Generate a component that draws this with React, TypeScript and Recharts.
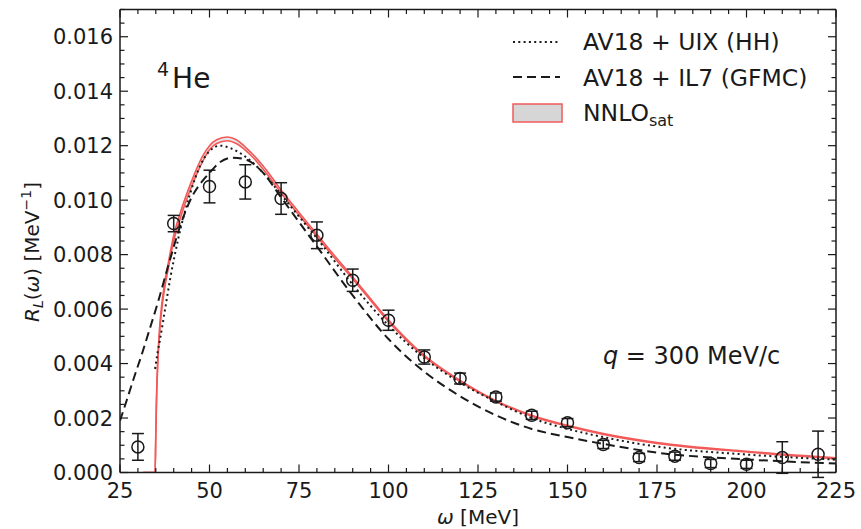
import React from 'react';
import {
  ComposedChart,
  Line,
  Area,
  Scatter,
  ErrorBar,
  XAxis,
  YAxis,
} from 'recharts';

// NNLOsat band (lower / upper edge)
const nnloW = [31.5, 34.8, 35.0, 35.2, 35.5, 36.0, 36.6, 37.4, 38.5, 40, 42, 45, 48, 50, 52, 55, 57.5, 60, 62.5, 65, 67.5, 70, 75, 80, 85, 90, 100, 110, 120, 130, 140, 150, 160, 175, 200, 225];
const nnloHi = [0, 0, 0.0015, 0.0028, 0.004, 0.0052, 0.0061, 0.0069, 0.0077, 0.0087, 0.0096, 0.0107, 0.0116, 0.012, 0.01222, 0.01232, 0.01222, 0.01195, 0.01163, 0.01125, 0.01082, 0.01037, 0.00955, 0.00875, 0.00795, 0.00718, 0.0056, 0.0043, 0.00338, 0.00264, 0.0021, 0.00173, 0.00143, 0.0011, 0.00078, 0.00054];
const nnloLo = [0, 0, 0.0013, 0.0026, 0.0038, 0.005, 0.0059, 0.0067, 0.0075, 0.0085, 0.0094, 0.0105, 0.0114, 0.01185, 0.01208, 0.01218, 0.01208, 0.01184, 0.01152, 0.01113, 0.0107, 0.01026, 0.00945, 0.00866, 0.00787, 0.00711, 0.00554, 0.00425, 0.00334, 0.00261, 0.00207, 0.0017, 0.0014, 0.00107, 0.00075, 0.00051];

// AV18 + UIX (HH)
const uixW = [34.8, 35.5, 36.2, 37.6, 39, 41.3, 44.5, 47.5, 50, 53, 56, 60, 65, 70, 75, 80, 90, 100, 110, 120, 130, 140, 150, 160, 175, 200, 225];
const uixR = [0.0038, 0.0044, 0.0049, 0.006, 0.0071, 0.0086, 0.0102, 0.0113, 0.0118, 0.012, 0.0119, 0.0116, 0.011, 0.0102, 0.0094, 0.0086, 0.0069, 0.0054, 0.0042, 0.0033, 0.0026, 0.002, 0.0016, 0.0013, 0.00095, 0.00066, 0.00047];

// AV18 + IL7 (GFMC)
const il7W = [25, 27, 29.2, 31, 32.9, 35.7, 38.5, 42.2, 45, 48, 50, 53, 56.5, 60, 65, 70, 75, 80, 90, 100, 110, 120, 130, 140, 150, 160, 175, 200, 225];
const il7R = [0.0019, 0.0027, 0.0036, 0.0043, 0.0051, 0.0063, 0.0076, 0.0092, 0.0101, 0.0107, 0.011, 0.0114, 0.01156, 0.0115, 0.011, 0.0101, 0.0092, 0.0083, 0.0065, 0.0049, 0.0037, 0.0028, 0.0021, 0.0016, 0.0013, 0.00105, 0.00073, 0.00048, 0.00033];

// experimental points
const expW = [30, 40, 50, 60, 70, 80, 90, 100, 110, 120, 130, 140, 150, 160, 170, 180, 190, 200, 210, 220];
const expR = [0.00094, 0.00914, 0.0105, 0.01067, 0.01006, 0.00871, 0.00706, 0.00559, 0.00424, 0.00345, 0.00277, 0.0021, 0.00183, 0.00103, 0.00055, 0.0006, 0.00033, 0.0003, 0.00055, 0.00067];
const expErr = [0.00049, 0.0003, 0.0006, 0.00063, 0.00058, 0.00049, 0.00041, 0.00037, 0.00026, 0.0002, 0.00015, 0.00015, 0.00015, 0.00015, 0.00015, 0.00015, 0.00015, 0.00015, 0.00058, 0.00085];

// ticks
const xMajor = [25, 50, 75, 100, 125, 150, 175, 200, 225];
const xTicks = Array.from({ length: 41 }, (_, i) => 25 + i * 5);
const yMajor = [0, 0.002, 0.004, 0.006, 0.008, 0.01, 0.012, 0.014, 0.016];
const yTicks = Array.from({ length: 35 }, (_, i) => Math.round(i * 5) / 10000);

const FONT = '"DejaVu Sans", sans-serif';
const INK = '#1a1a1a';
const RED = '#f25a5a';

const bandData = nnloW.map((w, i) => ({ w, band: [nnloLo[i], nnloHi[i]] }));
const uixData = uixW.map((w, i) => ({ w, r: uixR[i] }));
const il7Data = il7W.map((w, i) => ({ w, r: il7R[i] }));
const expData = expW.map((w, i) => ({ w, r: expR[i], err: expErr[i] }));

const isMajorY = (v: number) => yMajor.some((m) => Math.abs(m - v) < 1e-9);

function BottomTick({ x, y, payload }: any) {
  const major = xMajor.includes(payload.value);
  return (
    <g>
      <line x1={x} x2={x} y1={y} y2={y - (major ? 8 : 4.5)} stroke={INK} strokeWidth={1.2} />
      {major && (
        <text x={x} y={y + 25} textAnchor="middle" fontSize={21} fill={INK} fontFamily={FONT}>
          {payload.value}
        </text>
      )}
    </g>
  );
}

function TopTick({ x, y, payload }: any) {
  const major = xMajor.includes(payload.value);
  return <line x1={x} x2={x} y1={y} y2={y + (major ? 8 : 4.5)} stroke={INK} strokeWidth={1.2} />;
}

function LeftTick({ x, y, payload }: any) {
  const major = isMajorY(payload.value);
  return (
    <g>
      <line x1={x} x2={x + (major ? 8 : 4.5)} y1={y} y2={y} stroke={INK} strokeWidth={1.2} />
      {major && (
        <text x={x - 7} y={y + 7.5} textAnchor="end" fontSize={21} fill={INK} fontFamily={FONT}>
          {payload.value.toFixed(3)}
        </text>
      )}
    </g>
  );
}

function RightTick({ x, y, payload }: any) {
  const major = isMajorY(payload.value);
  return <line x1={x} x2={x - (major ? 8 : 4.5)} y1={y} y2={y} stroke={INK} strokeWidth={1.2} />;
}

function OpenCircle({ cx, cy }: any) {
  return <circle cx={cx} cy={cy} r={6} fill="none" stroke={INK} strokeWidth={1.5} />;
}

function Overlay() {
  return (
    <svg
      width={861}
      height={529}
      style={{ position: 'absolute', left: 0, top: 0, pointerEvents: 'none' }}
      fontFamily={FONT}
      fill={INK}
    >
      {/* legend */}
      <line x1={513} x2={560} y1={42} y2={42} stroke={INK} strokeWidth={2} strokeDasharray="2 3.3" />
      <text x={583} y={50} fontSize={23.5}>AV18 + UIX (HH)</text>
      <line x1={513} x2={560} y1={77} y2={77} stroke={INK} strokeWidth={2} strokeDasharray="9 5" />
      <text x={583} y={86} fontSize={23.5}>AV18 + IL7 (GFMC)</text>
      <rect x={513} y={104} width={49} height={18} fill="#d6d6d6" stroke={RED} strokeWidth={1.5} />
      <text x={583} y={121} fontSize={23.5}>
        NNLO<tspan fontSize={16} dy={5}>sat</tspan>
      </text>

      {/* annotations */}
      <text x={157} y={88} fontSize={28}>
        <tspan fontSize={19} dy={-12}>4</tspan>
        <tspan dy={12} dx={3}>He</tspan>
      </text>
      <text x={603} y={364} fontSize={24}>
        <tspan fontStyle="italic">q</tspan> = 300 MeV/c
      </text>

      {/* axis labels */}
      <text x={478} y={524} fontSize={20} textAnchor="middle">
        <tspan fontStyle="italic">ω</tspan>  [MeV]
      </text>
      <text x={0} y={0} fontSize={20} textAnchor="middle" transform="translate(39 252) rotate(-90)">
        <tspan fontStyle="italic">R</tspan>
        <tspan fontStyle="italic" fontSize={14} dy={4}>L</tspan>
        <tspan dy={-4}>(</tspan>
        <tspan fontStyle="italic">ω</tspan>
        <tspan>) [MeV</tspan>
        <tspan fontSize={14} dy={-8}>−1</tspan>
        <tspan dy={8}>]</tspan>
      </text>
    </svg>
  );
}

export default function App() {
  return (
    <div style={{ position: 'absolute', left: 0, top: 0, width: 861, height: 529, background: '#fff' }}>
      <ComposedChart
        width={861}
        height={529}
        margin={{ top: 8.5, right: 24, bottom: 55.5, left: 119 }}
      >
        <XAxis
          xAxisId="bottom"
          dataKey="w"
          type="number"
          domain={[25, 225]}
          allowDataOverflow
          ticks={xTicks}
          interval={0}
          height={1}
          tickSize={0}
          tickMargin={0}
          tickLine={false}
          axisLine={{ stroke: INK, strokeWidth: 1.5 }}
          tick={<BottomTick />}
        />
        <XAxis
          xAxisId="top"
          orientation="top"
          dataKey="w"
          type="number"
          domain={[25, 225]}
          allowDataOverflow
          ticks={xTicks}
          interval={0}
          height={1}
          tickSize={0}
          tickMargin={0}
          tickLine={false}
          axisLine={{ stroke: INK, strokeWidth: 1.5 }}
          tick={<TopTick />}
        />
        <YAxis
          yAxisId="left"
          type="number"
          domain={[0, 0.017]}
          allowDataOverflow
          ticks={yTicks}
          interval={0}
          width={1}
          tickSize={0}
          tickMargin={0}
          tickLine={false}
          axisLine={{ stroke: INK, strokeWidth: 1.5 }}
          tick={<LeftTick />}
        />
        <YAxis
          yAxisId="right"
          orientation="right"
          type="number"
          domain={[0, 0.017]}
          allowDataOverflow
          ticks={yTicks}
          interval={0}
          width={1}
          tickSize={0}
          tickMargin={0}
          tickLine={false}
          axisLine={{ stroke: INK, strokeWidth: 1.5 }}
          tick={<RightTick />}
        />
        <Area
          xAxisId="bottom"
          yAxisId="left"
          data={bandData}
          dataKey="band"
          type="monotone"
          stroke={RED}
          strokeWidth={1.6}
          fill="#e6e6e6"
          fillOpacity={1}
          isAnimationActive={false}
        />
        <Line
          xAxisId="bottom"
          yAxisId="left"
          data={uixData}
          dataKey="r"
          type="monotone"
          stroke={INK}
          strokeWidth={2}
          strokeDasharray="2 3.3"
          dot={false}
          isAnimationActive={false}
        />
        <Line
          xAxisId="bottom"
          yAxisId="left"
          data={il7Data}
          dataKey="r"
          type="monotone"
          stroke={INK}
          strokeWidth={2}
          strokeDasharray="9 5"
          dot={false}
          isAnimationActive={false}
        />
        <Scatter
          xAxisId="bottom"
          yAxisId="left"
          data={expData}
          dataKey="r"
          shape={<OpenCircle />}
          isAnimationActive={false}
        >
          <ErrorBar dataKey="err" direction="y" width={6} stroke={INK} strokeWidth={1.5} />
        </Scatter>
      </ComposedChart>
      <Overlay />
    </div>
  );
}
